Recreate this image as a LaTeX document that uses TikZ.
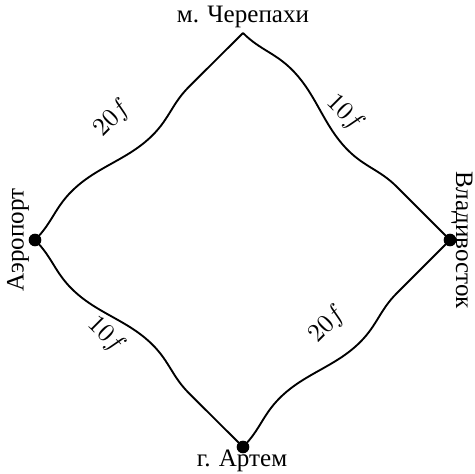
\documentclass[tikz,border=0pt]{standalone}
\usepackage{fontspec}
\setmainfont{Liberation Serif}
\usepackage{tikz}
\usetikzlibrary{
  % wavy roads
  decorations.pathmorphing,%
  positioning
}
\tikzset{>=latex}
\tikzset{font=\fontsize{10.7}{13}\selectfont}
\tikzset{stop/.style={circle, fill, inner sep=0pt, minimum size=0.19cm}}
\tikzset{road/.style={thick, decorate,
  decoration={snake, amplitude=0.13cm, segment length=2.9cm}}}
\tikzset{cost/.style={sloped, inner sep=0pt}}

\begin{document}
\begin{tikzpicture}[x=0.015cm, y=0.015cm]
  \useasboundingbox (0, 0) rectangle (475, 473);
  \node[stop] (airport) at (35, 233) {};
  \node[stop] (vlad) at (450, 233) {};
  \node[stop] (artem) at (243, 26) {};
  \coordinate (turtle) at (243, 440);
  \node[rotate=90] (airportname) at (18, 233) {Аэропорт};
  \node[rotate=-90] (vladname) at (462, 233) {Владивосток};
  \node (artemname) at (242, 12) {г. Артем};
  \node (turtlename) at (243, 456) {м. Черепахи};
  % the four roads
  \draw[road] (airport.center) -- node[cost, pos=0.48, above=0.29cm] (c1) {$20f$} (turtle);
  \draw[road] (turtle) -- node[cost, pos=0.44, above=0.04cm] (c2) {$10f$} (vlad.center);
  \draw[road, decoration={mirror}] (airport.center) -- node[cost, pos=0.4, below=0.08cm] (c3) {$10f$} (artem.center);
  \draw[road] (artem.center) -- node[cost, pos=0.5, above=0.22cm] (c4) {$20f$} (vlad.center);
\end{tikzpicture}
\end{document}
